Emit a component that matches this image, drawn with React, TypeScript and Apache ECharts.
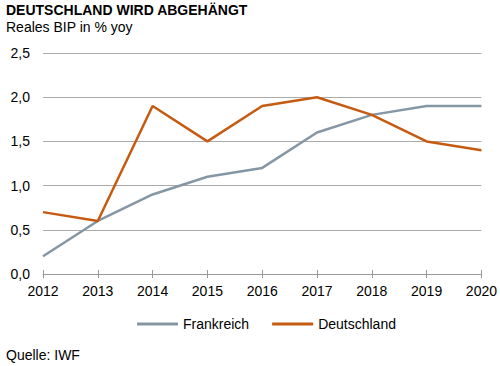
import React, { useEffect, useRef } from "react";
import * as echarts from "echarts";

const years = ["2012", "2013", "2014", "2015", "2016", "2017", "2018", "2019", "2020"];
const frankreich = [0.2, 0.6, 0.9, 1.1, 1.2, 1.6, 1.8, 1.9, 1.9];
const deutschland = [0.7, 0.6, 1.9, 1.5, 1.9, 2.0, 1.8, 1.5, 1.4];

const FONT = "'Liberation Sans', Arial, sans-serif";

export default function App() {
  const ref = useRef<HTMLDivElement>(null);
  useEffect(() => {
    if (!ref.current) return;
    const chart = echarts.init(ref.current, null, { renderer: "svg" });
    chart.setOption({
      animation: false,
      backgroundColor: "#ffffff",
      textStyle: { fontFamily: FONT },
      grid: { left: 43, right: 18, top: 53, bottom: 92, containLabel: false },
      graphic: [
        {
          type: "text",
          left: 6,
          top: 3,
          style: { text: "DEUTSCHLAND WIRD ABGEHÄNGT", font: `bold 14px ${FONT}`, fill: "#000" },
        },
        {
          type: "text",
          left: 6,
          top: 20,
          style: { text: "Reales BIP in % yoy", font: `14px ${FONT}`, fill: "#000" },
        },
        {
          type: "text",
          left: 6,
          top: 348,
          style: { text: "Quelle: IWF", font: `14px ${FONT}`, fill: "#000" },
        },
      ],
      legend: {
        left: 132,
        top: 312,
        icon: "rect",
        itemWidth: 41,
        itemHeight: 3,
        itemGap: 23,
        textStyle: { fontFamily: FONT, fontSize: 14, color: "#000", padding: [0, 0, 0, 0] },
        data: ["Frankreich", "Deutschland"],
      },
      xAxis: [
        {
          type: "category",
          data: years,
          boundaryGap: false,
          axisLine: { lineStyle: { color: "#999999", width: 1 } },
          axisTick: { show: true, length: 4, lineStyle: { color: "#999999" } },
          axisLabel: { color: "#000", fontSize: 14, fontFamily: FONT, margin: 10 },
          splitLine: { show: false },
        },
        {
          type: "category",
          data: years,
          boundaryGap: false,
          position: "bottom",
          axisLine: { show: false },
          axisTick: { show: true, inside: true, length: 4, lineStyle: { color: "#999999" } },
          axisLabel: { show: false },
          splitLine: { show: false },
        },
      ],
      yAxis: {
        type: "value",
        min: 0,
        max: 2.5,
        interval: 0.5,
        axisLine: { show: false },
        axisTick: { show: false },
        axisLabel: {
          color: "#000",
          fontSize: 14,
          fontFamily: FONT,
          margin: 13,
          formatter: (v: number) => v.toFixed(1).replace(".", ","),
        },
        splitLine: { lineStyle: { color: "#aaaaaa", width: 1 } },
      },
      series: [
        {
          name: "Frankreich",
          type: "line",
          data: frankreich,
          showSymbol: false,
          symbol: "none",
          lineStyle: { color: "#8596a5", width: 2.5 },
          itemStyle: { color: "#8596a5" },
        },
        {
          name: "Deutschland",
          type: "line",
          data: deutschland,
          showSymbol: false,
          symbol: "none",
          lineStyle: { color: "#c55a11", width: 2.5 },
          itemStyle: { color: "#c55a11" },
        },
      ],
    });
    return () => chart.dispose();
  }, []);
  return <div ref={ref} style={{ width: 500, height: 366, position: "fixed", left: 0, top: 0 }} />;
}
